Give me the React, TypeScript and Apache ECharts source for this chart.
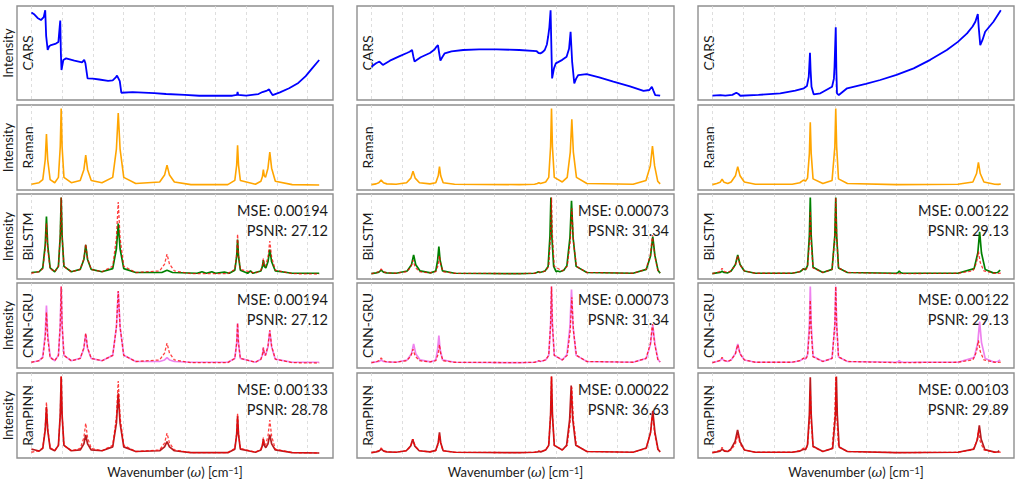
import React, { useEffect, useRef } from "react";
import * as echarts from "echarts";

// ---------- DATA (x: wavenumber index units, y: normalised intensity) ----------
const ROW_LABELS = ["CARS", "Raman", "BiLSTM", "CNN-GRU", "RamPINN"];
const X_LABEL = "Wavenumber ({i|ω}) [cm{s|−1}]";

const MSE_BILSTM = ["0.00194", "0.00073", "0.00122"];
const PSNR_BILSTM = ["27.12", "31.34", "29.13"];
const MSE_CNNGRU = ["0.00194", "0.00073", "0.00122"];
const PSNR_CNNGRU = ["27.12", "31.34", "29.13"];
const MSE_RAMPINN = ["0.00133", "0.00022", "0.00103"];
const PSNR_RAMPINN = ["28.78", "36.63", "29.89"];

// column 1
const CARS_A = [[0,0.975],[10,0.95],[20,0.91],[31,0.885],[40,0.92],[45,1.0],[48,0.7],[53,0.535],[58,0.58],[64,0.593],[80,0.61],[88,0.63],[92,0.8],[94,0.88],[96,0.5],[98,0.3],[104,0.418],[113,0.437],[140,0.41],[165,0.39],[172,0.42],[176,0.38],[183,0.203],[200,0.2],[221,0.19],[250,0.175],[265,0.18],[275,0.215],[279,0.235],[284,0.2],[288,0.17],[293,0.035],[330,0.043],[400,0.03],[439,0.02],[500,0.01],[547,0.0],[655,0.0],[670,0.01],[672,0.043],[674,0.01],[700,0.0],[740,0.02],[753,0.043],[768,0.06],[775,0.075],[780,0.04],[786,0.008],[810,0.04],[840,0.087],[870,0.15],[894,0.23],[915,0.32],[938,0.418]];
const TRUTH_A = [[0,0.01],[25,0.03],[37,0.07],[45,0.33],[49,0.665],[53,0.33],[61,0.07],[76,0.03],[88,0.1],[94,0.5],[97,1.0],[100,0.5],[106,0.1],[130,0.03],[159,0.06],[171,0.2],[177,0.39],[183,0.2],[195,0.06],[230,0.03],[265,0.1],[277,0.47],[283,0.94],[289,0.47],[301,0.1],[340,0.02],[418,0.04],[434,0.13],[442,0.26],[450,0.13],[466,0.04],[520,0.005],[640,0.005],[663,0.06],[669,0.26],[672,0.52],[675,0.26],[681,0.06],[730,0.01],[748,0.05],[753,0.11],[756,0.2],[759,0.12],[763,0.1],[771,0.22],[777,0.43],[783,0.22],[795,0.05],[850,0.005],[938,0.0]];
const PRED_BILSTM_A = [[0,0.02],[25,0.03],[37,0.08],[45,0.38],[49,0.75],[53,0.38],[61,0.08],[76,0.03],[88,0.1],[94,0.5],[97,1.0],[100,0.5],[106,0.1],[130,0.03],[159,0.06],[171,0.19],[177,0.38],[183,0.19],[195,0.06],[230,0.03],[265,0.07],[277,0.33],[283,0.66],[289,0.33],[301,0.07],[340,0.02],[425,0.02],[442,0.05],[460,0.02],[540,0.01],[556,0.03],[570,0.01],[588,0.03],[600,0.01],[629,0.025],[645,0.01],[663,0.05],[669,0.23],[672,0.45],[675,0.23],[681,0.05],[705,0.01],[714,0.04],[722,0.01],[748,0.04],[753,0.1],[756,0.18],[759,0.1],[764,0.08],[771,0.16],[777,0.32],[783,0.16],[795,0.04],[850,0.01],[938,0.01]];
const PRED_CNNGRU_A = [[0,0.01],[25,0.03],[37,0.08],[45,0.38],[49,0.75],[53,0.38],[61,0.08],[76,0.03],[88,0.1],[94,0.5],[97,1.0],[100,0.5],[106,0.1],[130,0.03],[159,0.06],[171,0.19],[177,0.38],[183,0.19],[195,0.06],[230,0.03],[265,0.1],[277,0.47],[283,0.94],[289,0.47],[301,0.1],[340,0.02],[418,0.02],[434,0.04],[442,0.07],[450,0.04],[466,0.02],[520,0.01],[640,0.01],[663,0.06],[669,0.26],[672,0.52],[675,0.26],[681,0.06],[730,0.01],[748,0.05],[753,0.11],[756,0.2],[759,0.12],[763,0.1],[771,0.21],[777,0.42],[783,0.21],[795,0.05],[850,0.01],[938,0.01]];
const PRED_RAMPINN_A = [[0,0.05],[12,0.04],[25,0.025],[37,0.06],[45,0.3],[49,0.6],[53,0.3],[61,0.06],[76,0.03],[88,0.1],[94,0.5],[97,1.0],[100,0.5],[106,0.1],[130,0.03],[159,0.04],[171,0.12],[177,0.235],[183,0.12],[195,0.04],[230,0.03],[265,0.08],[277,0.39],[283,0.78],[289,0.39],[301,0.08],[340,0.02],[418,0.03],[434,0.08],[442,0.15],[450,0.08],[466,0.03],[520,0.005],[640,0.005],[663,0.05],[669,0.24],[672,0.48],[675,0.24],[681,0.05],[730,0.01],[748,0.04],[753,0.1],[756,0.18],[759,0.1],[764,0.07],[771,0.12],[777,0.24],[783,0.12],[795,0.04],[850,0.005],[938,0.0]];

// column 2
const CARS_B = [[0,0.34],[15,0.38],[26,0.4],[37,0.36],[60,0.41],[90,0.46],[115,0.5],[124,0.515],[132,0.535],[136,0.46],[140,0.4],[160,0.45],[190,0.5],[205,0.54],[211,0.573],[216,0.593],[220,0.5],[224,0.41],[230,0.45],[238,0.496],[260,0.52],[298,0.535],[350,0.543],[406,0.543],[480,0.535],[536,0.523],[543,0.5],[549,0.496],[556,0.51],[563,0.535],[570,0.6],[574,0.69],[578,0.8],[582,1.0],[585,0.5],[587,0.203],[593,0.32],[599,0.379],[620,0.42],[634,0.456],[642,0.55],[647,0.749],[652,0.4],[659,0.145],[665,0.2],[672,0.242],[699,0.254],[740,0.215],[786,0.164],[840,0.11],[884,0.058],[903,0.067],[911,0.105],[916,0.06],[922,0.008],[938,0.0]];
const TRUTH_B = [[0,0.005],[15,0.015],[24,0.03],[31.5,0.065],[39,0.03],[50,0.015],[80,0.01],[114,0.03],[128,0.09],[135,0.18],[142,0.09],[156,0.03],[190,0.015],[209,0.03],[217,0.12],[221,0.24],[225,0.12],[233,0.03],[270,0.01],[480,0.005],[530,0.01],[539,0.02],[544,0.03],[549,0.02],[566,0.04],[576,0.1],[582,0.5],[585,1.0],[588,0.5],[594,0.1],[620,0.04],[636,0.1],[646,0.43],[651,0.86],[656,0.43],[666,0.1],[700,0.02],[850,0.01],[892,0.06],[906,0.25],[913,0.51],[920,0.25],[930,0.05],[938,0.015]];
const PRED_BILSTM_B = [[0,0.005],[15,0.015],[24,0.025],[31.5,0.05],[39,0.025],[50,0.015],[80,0.01],[116,0.04],[130,0.12],[137,0.25],[144,0.12],[158,0.04],[192,0.015],[209,0.04],[215,0.18],[219,0.36],[223,0.18],[231,0.04],[270,0.01],[480,0.005],[530,0.01],[537,0.02],[542,0.03],[547,0.02],[564,0.04],[574,0.1],[580,0.5],[583,1.0],[586,0.5],[592,0.1],[600,0.03],[605,0.04],[612,0.03],[625,0.05],[635,0.11],[645,0.48],[650,0.955],[655,0.48],[665,0.1],[700,0.02],[850,0.01],[893,0.06],[907,0.24],[914,0.49],[921,0.24],[931,0.05],[938,0.01]];
const PRED_CNNGRU_B = [[0,0.005],[15,0.015],[24,0.02],[31.5,0.04],[39,0.02],[50,0.015],[80,0.01],[116,0.04],[130,0.12],[137,0.25],[144,0.12],[158,0.04],[192,0.015],[209,0.04],[215,0.18],[219,0.36],[223,0.18],[231,0.04],[270,0.01],[480,0.005],[530,0.01],[539,0.02],[544,0.03],[549,0.02],[566,0.04],[576,0.1],[582,0.5],[585,1.0],[588,0.5],[594,0.1],[620,0.04],[635,0.11],[645,0.48],[650,0.96],[655,0.48],[665,0.1],[700,0.02],[850,0.01],[893,0.06],[907,0.25],[914,0.5],[921,0.25],[931,0.05],[938,0.01]];
const PRED_RAMPINN_B = [[0,0.005],[15,0.015],[24,0.025],[32,0.05],[40,0.025],[50,0.015],[80,0.01],[113,0.03],[127,0.09],[134,0.18],[141,0.09],[155,0.03],[190,0.015],[209,0.035],[217,0.135],[221,0.27],[225,0.135],[233,0.03],[270,0.01],[480,0.005],[530,0.01],[540,0.015],[545,0.02],[550,0.015],[566,0.04],[576,0.1],[582,0.5],[585,1.0],[588,0.5],[594,0.1],[620,0.04],[634,0.1],[644,0.44],[649,0.88],[654,0.44],[664,0.1],[700,0.02],[850,0.01],[893,0.065],[907,0.27],[914,0.55],[921,0.27],[931,0.05],[938,0.015]];

// column 3
const CARS_C = [[0,0.0],[26,0.008],[42,0.0],[65,0.01],[78,0.035],[85,0.02],[91,0.0],[150,0.01],[221,0.028],[270,0.06],[298,0.087],[308,0.113],[314,0.222],[318,0.503],[320,0.3],[323,0.105],[330,0.016],[352,0.028],[390,0.105],[396,0.2],[398,0.34],[402,0.8],[404,0.3],[406,0.028],[412,0.008],[439,0.087],[500,0.14],[547,0.184],[600,0.245],[656,0.32],[710,0.42],[764,0.535],[800,0.63],[830,0.73],[848,0.81],[857,0.866],[865,0.956],[868,0.8],[873,0.593],[880,0.65],[889,0.749],[916,0.866],[940,1.0]];
const TRUTH_C = [[0,0.005],[14,0.02],[25,0.035],[31.5,0.075],[38,0.035],[50,0.02],[61,0.04],[75,0.12],[82.5,0.24],[90,0.12],[104,0.04],[140,0.01],[260,0.01],[285,0.03],[292,0.05],[297,0.065],[303,0.05],[310,0.09],[316,0.41],[319,0.82],[322,0.41],[328,0.08],[360,0.02],[390,0.06],[399,0.5],[402,1.0],[405,0.5],[411,0.08],[440,0.02],[600,0.005],[800,0.01],[849,0.04],[861,0.15],[867,0.296],[873,0.15],[885,0.04],[920,0.01],[932,0.008],[940,0.013]];
const PRED_BILSTM_C = [[0,0.005],[14,0.015],[25,0.02],[31.5,0.035],[38,0.02],[50,0.015],[61,0.04],[75,0.125],[82.5,0.25],[90,0.125],[104,0.04],[140,0.01],[260,0.01],[285,0.03],[292,0.05],[297,0.07],[303,0.055],[310,0.11],[316,0.5],[319,1.0],[322,0.5],[328,0.09],[360,0.02],[390,0.06],[399,0.5],[402,1.0],[405,0.5],[411,0.08],[440,0.02],[600,0.01],[605,0.02],[609,0.04],[613,0.02],[620,0.01],[800,0.01],[853,0.07],[865,0.275],[871,0.55],[877,0.275],[889,0.06],[915,0.015],[930,0.02],[938,0.05]];
const PRED_CNNGRU_C = [[0,0.005],[14,0.02],[25,0.03],[31.5,0.06],[38,0.03],[50,0.02],[61,0.04],[75,0.125],[82.5,0.25],[90,0.125],[104,0.04],[140,0.01],[260,0.01],[285,0.03],[292,0.045],[297,0.06],[303,0.05],[310,0.11],[316,0.5],[319,1.0],[322,0.5],[328,0.09],[360,0.02],[390,0.06],[399,0.5],[402,1.0],[405,0.5],[411,0.08],[440,0.02],[600,0.01],[605,0.015],[609,0.03],[613,0.015],[620,0.01],[800,0.01],[853,0.07],[865,0.27],[871,0.54],[877,0.27],[889,0.06],[915,0.015],[930,0.02],[938,0.04]];
const PRED_RAMPINN_C = [[0,0.005],[14,0.015],[25,0.025],[32,0.05],[39,0.025],[50,0.02],[60,0.05],[74,0.15],[82,0.3],[90,0.15],[104,0.04],[140,0.01],[260,0.01],[285,0.025],[292,0.04],[298,0.05],[304,0.045],[310,0.11],[316,0.5],[319,0.99],[322,0.5],[328,0.09],[360,0.02],[392,0.06],[401,0.5],[404,1.0],[407,0.5],[413,0.08],[440,0.02],[600,0.005],[800,0.01],[852,0.05],[864,0.18],[870,0.36],[876,0.18],[888,0.045],[920,0.012],[930,0.015],[935,0.03]];

// ---------- assembly ----------
const CARS = [CARS_A, CARS_B, CARS_C];
const TRUTH = [TRUTH_A, TRUTH_B, TRUTH_C];
const PREDS = [
  [PRED_BILSTM_A, PRED_CNNGRU_A, PRED_RAMPINN_A],
  [PRED_BILSTM_B, PRED_CNNGRU_B, PRED_RAMPINN_B],
  [PRED_BILSTM_C, PRED_CNNGRU_C, PRED_RAMPINN_C],
];
const METRICS = [
  [MSE_BILSTM, PSNR_BILSTM],
  [MSE_CNNGRU, PSNR_CNNGRU],
  [MSE_RAMPINN, PSNR_RAMPINN],
];

const FONT = "Lato, 'Open Sans', sans-serif";
const COL_LEFT = [17, 357, 698];
const COL_WIDTH = [316, 317, 316];
const ROW_TOP = [6, 105, 194, 283, 373];
const ROW_HEIGHT = [94, 85, 85, 85, 85];
const PRED_COLORS = ["#008000", "#ee82ee", "#b81b1f"];

function buildOption() {
  const grid: any[] = [];
  const xAxis: any[] = [];
  const yAxis: any[] = [];
  const series: any[] = [];
  const graphic: any[] = [];

  for (let c = 0; c < 3; c++) {
    for (let r = 0; r < 5; r++) {
      const idx = c * 5 + r;
      grid.push({
        left: COL_LEFT[c],
        top: ROW_TOP[r],
        width: COL_WIDTH[c],
        height: ROW_HEIGHT[r],
        show: true,
        borderColor: "#8f8f8f",
        borderWidth: 1.4,
        backgroundColor: "transparent",
        containLabel: false,
      });
      xAxis.push({
        gridIndex: idx,
        type: "value",
        min: -47,
        max: 983,
        splitNumber: 10,
        axisLine: { show: false },
        axisTick: { show: false },
        axisLabel: { show: false },
        splitLine: {
          show: true,
          showMinLine: false,
          showMaxLine: false,
          lineStyle: { color: "#d6d6d6", type: [3, 3], width: 0.8 },
        },
      });
      yAxis.push({
        gridIndex: idx,
        type: "value",
        min: r === 0 ? -0.05 : -0.065,
        max: r === 0 ? 1.05 : 1.045,
        axisLine: { show: false },
        axisTick: { show: false },
        axisLabel: { show: false },
        splitLine: { show: false },
      });

      const base = {
        type: "line",
        xAxisIndex: idx,
        yAxisIndex: idx,
        showSymbol: false,
        symbol: "none",
        silent: true,
        clip: true,
      };
      if (r === 0) {
        series.push({ ...base, data: CARS[c], lineStyle: { color: "#0000ff", width: 1.8 } });
      } else if (r === 1) {
        series.push({ ...base, data: TRUTH[c], lineStyle: { color: "#ffa500", width: 1.6 } });
      } else {
        const m = r - 2;
        series.push({ ...base, data: PREDS[c][m], lineStyle: { color: PRED_COLORS[m], width: 1.7 } });
        series.push({
          ...base,
          data: TRUTH[c],
          lineStyle: { color: "rgba(255,0,0,0.75)", width: 1.3, type: [3, 2] },
        });
        const rx = COL_LEFT[c] + COL_WIDTH[c] - 5;
        graphic.push({
          type: "text",
          x: rx,
          y: ROW_TOP[r] + 16.5,
          silent: true,
          style: {
            text: "MSE: " + METRICS[m][0][c],
            fill: "#1a1a1a",
            fontSize: 14.5,
            fontFamily: FONT,
            align: "right",
            verticalAlign: "middle",
            textAlign: "right",
            textVerticalAlign: "middle",
          },
        });
        graphic.push({
          type: "text",
          x: rx,
          y: ROW_TOP[r] + 36.5,
          silent: true,
          style: {
            text: "PSNR: " + METRICS[m][1][c],
            fill: "#1a1a1a",
            fontSize: 14.5,
            fontFamily: FONT,
            align: "right",
            verticalAlign: "middle",
            textAlign: "right",
            textVerticalAlign: "middle",
          },
        });
      }

      // row label inside the panel
      graphic.push({
        type: "text",
        x: COL_LEFT[c] + 10,
        y: ROW_TOP[r] + ROW_HEIGHT[r] / 2,
        rotation: Math.PI / 2,
        silent: true,
        style: {
          text: ROW_LABELS[r],
          fill: "#1a1a1a",
          fontSize: 14,
          fontFamily: FONT,
          align: "center",
          verticalAlign: "middle",
          textAlign: "center",
          textVerticalAlign: "middle",
        },
      });
      if (c === 0) {
        graphic.push({
          type: "text",
          x: COL_LEFT[c] - 9,
          y: ROW_TOP[r] + ROW_HEIGHT[r] / 2,
          rotation: Math.PI / 2,
          silent: true,
          style: {
            text: "Intensity",
            fill: "#1a1a1a",
            fontSize: 13,
            fontFamily: FONT,
            align: "center",
            verticalAlign: "middle",
            textAlign: "center",
            textVerticalAlign: "middle",
          },
        });
      }
    }
    graphic.push({
      type: "text",
      x: COL_LEFT[c] + COL_WIDTH[c] / 2,
      y: 472,
      silent: true,
      style: {
        text: X_LABEL,
        fill: "#1a1a1a",
        fontSize: 13,
        fontFamily: FONT,
        align: "center",
        verticalAlign: "middle",
        textAlign: "center",
        textVerticalAlign: "middle",
        rich: {
          i: { fontSize: 13, fontStyle: "italic", fontFamily: "'DejaVu Serif', serif", fill: "#1a1a1a" },
          s: { fontSize: 9, verticalAlign: "top", fontFamily: FONT, fill: "#1a1a1a", padding: [0, 0, 4, 0] },
        },
      },
    });
  }

  return {
    animation: false,
    backgroundColor: "#ffffff",
    grid,
    xAxis,
    yAxis,
    series,
    graphic,
  };
}

export default function App() {
  const ref = useRef<HTMLDivElement>(null);
  useEffect(() => {
    if (!ref.current) return;
    const chart = echarts.init(ref.current, undefined, { renderer: "svg" });
    chart.setOption(buildOption() as any);
    return () => chart.dispose();
  }, []);
  return (
    <div
      ref={ref}
      style={{ position: "fixed", left: 0, top: 0, width: 1024, height: 486, background: "#fff" }}
    />
  );
}
